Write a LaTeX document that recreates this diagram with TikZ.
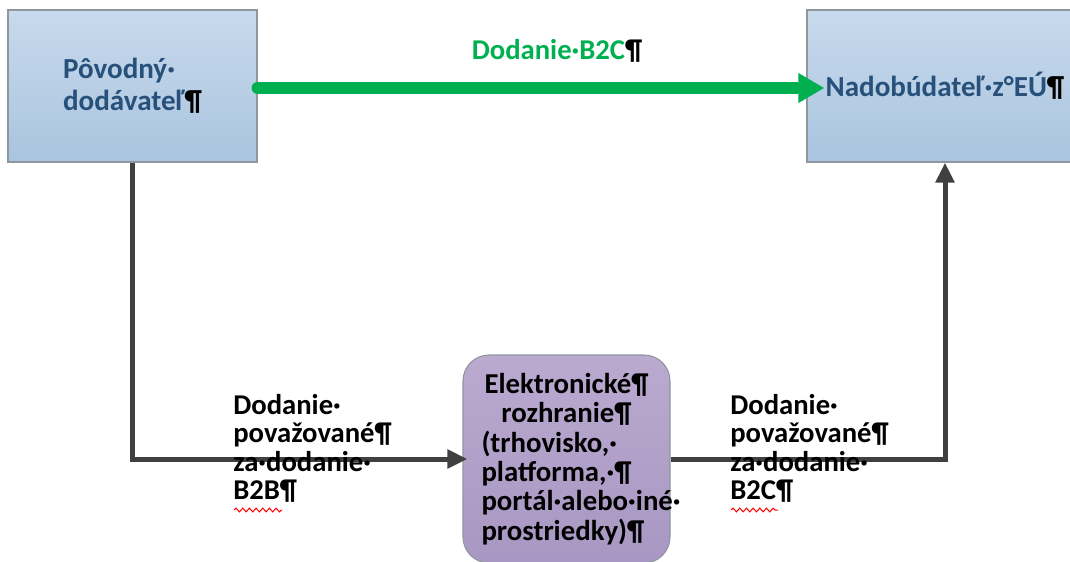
\documentclass[tikz,border=0pt]{standalone}
\usepackage{fontspec}
\setmainfont{Carlito}
\usetikzlibrary{arrows.meta,decorations.pathmorphing}
\definecolor{boxtop}{HTML}{C8DAEC}
\definecolor{boxbot}{HTML}{A9C4DF}
\definecolor{boxline}{HTML}{8E969E}
\definecolor{boxtext}{HTML}{27507A}
\definecolor{lilactop}{HTML}{BAAAD0}
\definecolor{lilacbot}{HTML}{A897C2}
\definecolor{flowgreen}{HTML}{00B050}
\definecolor{flowgray}{HTML}{404040}
\newcommand\pmark{\textcolor{black}{¶}}
\begin{document}
\begin{tikzpicture}[x=0.75pt,y=-0.75pt,
  party/.style={draw=boxline,line width=0.8pt,top color=boxtop,bottom color=boxbot,
    minimum height=114pt,text=boxtext,font=\bfseries\fontsize{21.8}{24}\selectfont,align=left},
  iface/.style={draw=boxline,line width=0.8pt,top color=lilactop,bottom color=lilacbot,
    rounded corners=19.5pt,minimum width=155.25pt,minimum height=156pt,
    text width=127.5pt,inner sep=0pt,font=\bfseries\fontsize{21.6}{22}\selectfont},
  flowlabel/.style={anchor=north west,align=left,inner sep=0pt,
    font=\bfseries\fontsize{21.5}{21.4}\selectfont},
  mainflow/.style={draw=flowgreen,line width=9pt,line cap=round,
    -{Triangle[length=19.5pt,width=21pt]}},
  subflow/.style={draw=flowgray,line width=3.75pt,
    -{Triangle[length=15pt,width=13.5pt]}},
  squiggle/.style={draw=red,line width=0.75pt,
    decorate,decoration={snake,amplitude=1.4pt,segment length=5pt}}]
\useasboundingbox (0,0) rectangle (1070,561);
\clip (0,0) rectangle (1070,561);

% parties of the supply chain
\node[party,minimum width=186.75pt] (src) at (132.5,86) {Pôvodný·\\dodávateľ\pmark};
\node[party,minimum width=207pt] (dst) at (945,86) {Nadobúdateľ·z°EÚ\pmark};

% electronic interface in the middle
\node[iface] (platf) at (566.5,459) {%
  \centering Elektronické\pmark\\ rozhranie\pmark\par
  \raggedright (trhovisko,·\\ platforma,·\pmark\\ portál·alebo·iné·\\ prostriedky)\pmark\par};

% direct B2C supply
\draw[mainflow] (src.east) ++(0,-1.5pt) -- ([xshift=13.5pt,yshift=-1.5pt]dst.west);
\node[text=flowgreen,font=\bfseries\fontsize{21.5}{24}\selectfont] (b2c) at (557,51)
  {Dodanie·B2C\pmark};

% supplies through the interface
\draw[subflow] (src.south) |- ([xshift=3.75pt]platf.west);
\draw[subflow] (platf.east) -| (dst.south);

\node[flowlabel] (lb2b) at (233,394)
  {Dodanie·\\považované\pmark\\za·dodanie·\\B2B\pmark};
\node[flowlabel] (lb2c) at (730,394)
  {Dodanie·\\považované\pmark\\za·dodanie·\\B2C\pmark};

% spelling marks under the abbreviations
\draw[squiggle] (234,510) -- (282,510);
\draw[squiggle] (731,510) -- (778,510);
\end{tikzpicture}
\end{document}
